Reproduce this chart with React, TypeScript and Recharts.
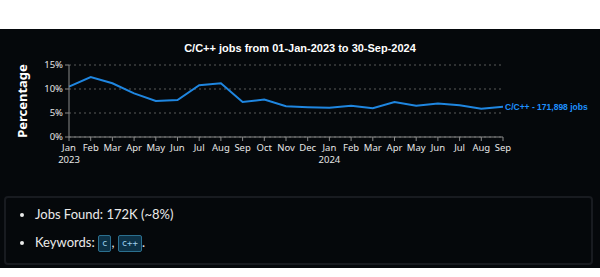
import React from 'react';
import { LineChart, Line, XAxis, YAxis, CartesianGrid, LabelList } from 'recharts';

const months = ['Jan', 'Feb', 'Mar', 'Apr', 'May', 'Jun', 'Jul', 'Aug', 'Sep', 'Oct', 'Nov', 'Dec',
  'Jan', 'Feb', 'Mar', 'Apr', 'May', 'Jun', 'Jul', 'Aug', 'Sep'];
const years = ['2023', '', '', '', '', '', '', '', '', '', '', '',
  '2024', '', '', '', '', '', '', '', ''];
const share = [10.5, 12.5, 11.2, 9.1, 7.5, 7.7, 10.8, 11.2, 7.3, 7.8, 6.4, 6.2,
  6.1, 6.5, 6.0, 7.3, 6.5, 7.0, 6.6, 5.9, 6.3];
const yTicks = [0, 5, 10, 15];

const title = 'C/C++ jobs from 01-Jan-2023 to 30-Sep-2024';
const seriesLabel = 'C/C++ - 171,898 jobs';

const data = share.map((v, i) => ({ key: i, month: months[i], year: years[i], share: v }));

const LINE = '#1f86e0';
const BG = '#05080b';

const MonthTick = (props: any) => {
  const { x, y, payload } = props;
  const i = payload.value;
  return (
    <g>
      <text x={x} y={y + 8} textAnchor="middle" fill="#e6e6e6" fontSize={9.5} fontFamily="Noto Sans">
        {months[i]}
      </text>
      {years[i] && (
        <text x={x} y={y + 20} textAnchor="middle" fill="#e6e6e6" fontSize={9.5} fontFamily="Noto Sans">
          {years[i]}
        </text>
      )}
    </g>
  );
};

const EndLabel = (props: any) => {
  const { x, y, index } = props;
  if (index !== share.length - 1) return null;
  return (
    <text x={x + 2} y={y} dy={3} fill="#1e90ff" fontSize={8.5} fontWeight="bold" fontFamily="Liberation Sans">
      {seriesLabel}
    </text>
  );
};

const Badge = ({ children }: { children: React.ReactNode }) => (
  <span style={{
    display: 'inline-block', fontFamily: 'DejaVu Sans Mono', fontSize: 9, color: '#9fd0ea',
    background: '#0d3247', border: '1px solid #2b6f8e', borderRadius: 2, padding: '2px 3px',
    lineHeight: '11px', verticalAlign: 'middle',
  }}>{children}</span>
);

export default function App() {
  return (
    <div style={{ position: 'fixed', left: 0, top: 0, width: 600, height: 277, background: '#fff' }}>
      <div style={{ position: 'absolute', left: 0, top: 29, width: 600, height: 239, background: BG }}>
        <div style={{
          position: 'absolute', left: 0, top: 13, width: 600, textAlign: 'center', color: '#fff',
          fontFamily: 'Liberation Sans', fontWeight: 'bold', fontSize: 11,
        }}>{title}</div>
        <div style={{
          position: 'absolute', left: 22, top: 72, transform: 'translate(-50%, -50%) rotate(-90deg)',
          color: '#fff', fontFamily: 'Noto Sans', fontWeight: 'bold', fontSize: 13, whiteSpace: 'nowrap',
        }}>Percentage</div>
        <LineChart width={600} height={140} data={data} margin={{ top: 36, right: 97, bottom: 0, left: 0 }}>
          <CartesianGrid vertical={false} stroke="#5a5a5a" strokeDasharray="2 3" />
          <XAxis dataKey="key" type="category" tick={<MonthTick />} interval={0} height={32}
            stroke="#8a8a8a" tickLine={{ stroke: '#8a8a8a' }} tickSize={4} />
          <YAxis domain={[0, 15]} ticks={yTicks} width={69} stroke="#8a8a8a" tickSize={4}
            tickFormatter={(v: number) => `${v}%`}
            tick={{ fill: '#e6e6e6', fontSize: 9.5, fontFamily: 'Noto Sans' }} />
          <Line type="linear" dataKey="share" stroke={LINE} strokeWidth={2} dot={false}
            isAnimationActive={false}>
            <LabelList dataKey="share" content={<EndLabel />} />
          </Line>
        </LineChart>
        <div style={{
          position: 'absolute', left: 4, top: 167, width: 589, height: 69, boxSizing: 'border-box',
          border: '2px solid #181b20', borderRadius: 4, background: BG,
          fontFamily: 'Lato', fontSize: 13, color: '#eaeaea',
        }}>
          <ul style={{ margin: 0, paddingLeft: 29, paddingTop: 8 }}>
            <li style={{ lineHeight: '17px' }}>Jobs Found: 172K (~8%)</li>
            <li style={{ lineHeight: '17px', marginTop: 11 }}>
              Keywords: <Badge>c</Badge>, <Badge>c++</Badge>.
            </li>
          </ul>
        </div>
      </div>
    </div>
  );
}
